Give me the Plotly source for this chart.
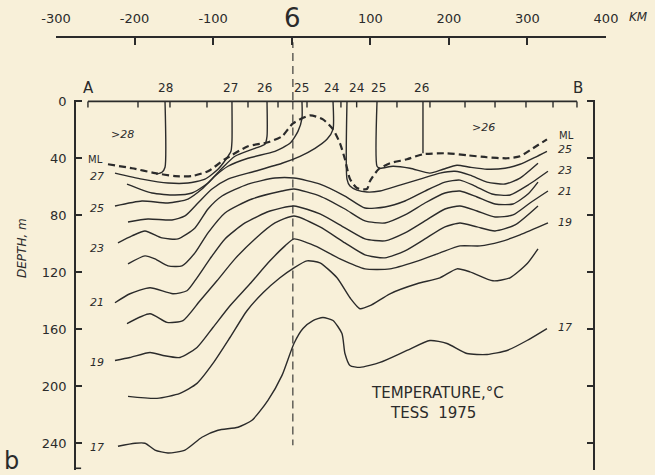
import plotly.graph_objects as go

W, H = 655, 475
BG = "#f8f0d9"
INK = "#2b2b2b"
FONT = "DejaVu Sans"

# distance scale along the top (km from storm centre)
km_ticks = [-300, -200, -100, 0, 100, 200, 300, 400]
km_labels = ["-300", "-200", "-100", "", "100", "200", "300", "400"]

# depth axis (m)
depth_ticks = [0, 40, 80, 120, 160, 200, 240]
depth_labels = ["0", "40", "80", "120", "160", "200", "240"]

# XBT stations along section A-B (km)
stations_km = [-259.3, -195.6, -154.9, -107.8, -55.6, -17.4, 19.5, 62.7,
               82.7, 134.0, 176.0, 220.6, 258.8, 298.2, 332.6, 363.1]

# surface temperatures written above the section
surface_temps = ["28", "27", "26", "25", "24", "24", "25", "26"]
surface_temp_km = [-161.2, -78.5, -34.0, 12.0, 51.3, 83.1, 110.0, 165.8]

# mixed layer depth
ml_km = [-233.8, -203.3, -174.0, -148.5, -126.9, -106.5, -84.9, -55.6, -30.2, -12.3,
         1.7, 23.3, 39.8, 52.6, 61.5, 67.8, 74.2, 83.1, 95.8, 99.6, 110.5, 125.1,
         146.7, 167.1, 197.7, 223.1, 248.6, 274.1, 290.6, 307.1, 324.9]
ml_depth = [44.1, 46.9, 50.3, 52.4, 52.4, 49.0, 40.6, 31.5, 28.7, 24.5,
            15.4, 9.8, 12.6, 19.6, 29.4, 40.6, 54.5, 60.8, 61.5, 56.0, 47.6, 43.4,
            40.6, 37.1, 36.4, 37.8, 39.2, 39.9, 38.5, 32.9, 26.6]

# isotherms (km, depth m)
t28_km = [-161.2, -161.2, -165.1, -172.7]
t28_depth = [0, 46.2, 49.7, 51.0]

t27_km = [-224.9, -190.5, -157.4, -132.0, -110.3, -93.8, -83.6, -77.3, -76.0, -76.0]
t27_depth = [50.3, 54.5, 57.3, 57.3, 54.5, 47.6, 40.6, 35.0, 28.0, 0]

t26_km = [-209.6, -177.8, -148.5, -126.9, -106.5, -88.7, -72.2, -46.7, -34.0, -31.4, -31.4]
t26_depth = [58.0, 64.3, 65.7, 64.3, 57.3, 46.9, 38.5, 32.9, 30.1, 24.5, 0]

t26b_km = [167.1, 167.1]
t26b_depth = [0, 36.4]

t25_km = [-224.9, -190.5, -157.4, -132.0, -114.2, -97.6, -81.1, -55.6, -21.3, -2.2, 8.0, 13.1, 13.1]
t25_depth = [73.4, 69.9, 71.3, 68.5, 61.5, 52.4, 45.5, 39.9, 35.0, 29.4, 21.0, 11.9, 0]

t25b_km = [108.6, 108.6, 112.4, 128.9, 150.6, 176.0, 192.6, 210.4, 226.9, 248.6, 271.5, 290.6, 309.7, 324.9]
t25b_depth = [0, 45.5, 46.9, 45.5, 46.9, 50.3, 47.6, 44.8, 46.2, 47.6, 46.9, 44.1, 39.2, 35.0]

t24_km = [-208.3, -182.9, -152.3, -135.8, -119.3, -101.4, -81.1, -46.7, -12.3, 10.6, 29.7, 44.9, 52.6, 52.6]
t24_depth = [84.6, 82.5, 83.2, 80.4, 71.3, 61.5, 54.5, 49.0, 43.4, 38.5, 32.9, 26.6, 19.6, 0]

t24b_km = [70.4, 70.4, 74.2, 83.1, 95.8, 112.4, 137.8, 163.3, 188.7, 207.8, 226.9, 248.6, 271.5, 290.6, 313.5]
t24b_depth = [0, 54.5, 59.4, 62.2, 63.6, 62.9, 58.7, 54.5, 50.3, 49.0, 51.7, 56.6, 58.0, 53.8, 43.4]

t23_km = [-221.1, -203.3, -186.7, -165.1, -144.7, -123.1, -106.5, -88.7, -55.6, -21.3, 2.9, 36.0,
          67.8, 93.3, 118.7, 144.2, 169.6, 195.1, 214.2, 233.3, 254.9, 277.9, 300.8, 326.2]
t23_depth = [99.3, 94.4, 90.9, 95.8, 96.5, 88.8, 75.5, 66.4, 58.0, 53.8, 53.8, 58.0,
             66.4, 74.8, 74.1, 69.9, 62.9, 56.6, 55.2, 59.4, 65.0, 65.7, 58.7, 49.0]

t22_km = [-208.3, -186.7, -174.0, -157.4, -139.6, -123.1, -106.5, -84.9, -50.5, -12.3, 2.9, 36.0,
          67.8, 93.3, 118.7, 144.2, 169.6, 195.1, 214.2, 235.9, 258.8, 281.7, 300.8, 313.5]
t22_depth = [114.0, 108.4, 110.5, 115.4, 115.4, 106.3, 92.3, 78.3, 68.5, 62.9, 61.5, 66.4,
             75.5, 83.9, 85.3, 79.7, 71.3, 64.3, 62.9, 67.1, 72.0, 72.0, 65.0, 56.6]

t21_km = [-224.9, -205.8, -180.3, -151.1, -133.3, -120.5, -104.0, -84.9, -59.4, -27.6, 2.9, 36.0,
          67.8, 93.3, 118.7, 144.2, 169.6, 195.1, 214.2, 235.9, 258.8, 281.7, 303.3, 326.2]
t21_depth = [141.3, 135.0, 130.8, 135.0, 132.9, 123.8, 110.5, 96.5, 85.3, 76.9, 73.4, 79.0,
             88.8, 96.5, 97.9, 92.3, 83.9, 75.5, 73.4, 76.9, 81.1, 79.7, 71.3, 62.9]

t20_km = [-209.6, -180.3, -158.7, -138.3, -116.7, -95.1, -72.2, -46.7, -21.3, 2.9, 36.0,
          67.8, 93.3, 118.7, 144.2, 169.6, 195.1, 214.2, 235.9, 258.8, 284.3, 313.5]
t20_depth = [155.9, 149.0, 155.1, 153.8, 139.9, 125.9, 110.5, 96.5, 85.3, 80.4, 88.1,
             99.3, 107.7, 109.8, 104.9, 96.5, 88.1, 85.3, 88.1, 90.9, 86.7, 73.4]

t19_km = [-224.9, -205.8, -180.3, -163.8, -142.2, -120.5, -100.2, -78.5, -53.1, -27.6, -8.5, 2.9,
          29.7, 61.5, 93.3, 125.1, 156.9, 188.7, 214.2, 239.7, 265.1, 290.6, 326.2]
t19_depth = [181.8, 179.7, 176.2, 178.3, 179.7, 172.7, 158.7, 143.4, 128.0, 111.9, 101.4, 96.5,
             101.4, 110.5, 117.5, 117.5, 112.6, 106.3, 101.4, 101.4, 98.6, 93.7, 85.3]

t18_km = [-208.3, -171.4, -142.2, -120.5, -100.2, -78.5, -56.9, -36.5, -14.9, 2.9, 19.5, 36.0,
          57.7, 74.2, 86.9, 99.6, 125.1, 159.5, 188.7, 210.4, 226.9, 256.2, 277.9, 299.5, 313.5]
t18_depth = [207.0, 208.4, 204.9, 197.9, 183.9, 165.7, 146.9, 134.3, 123.8, 116.8, 111.9, 113.3,
             123.8, 137.8, 145.5, 143.4, 135.0, 128.0, 123.8, 117.5, 119.6, 125.9, 123.8, 114.0, 103.5]

t17_km = [-221.1, -199.4, -186.7, -174.0, -157.4, -135.8, -114.2, -93.8, -68.3, -50.5, -30.2, -12.3,
          2.9, 14.4, 27.1, 39.8, 52.6, 64.0, 67.8, 74.2, 86.9, 112.4, 146.7, 176.0, 197.7, 223.1,
          248.6, 274.1, 299.5, 324.9]
t17_depth = [242.0, 239.9, 239.9, 244.7, 246.8, 244.7, 235.7, 230.8, 228.7, 223.8, 209.8, 192.3,
             169.9, 159.4, 153.8, 151.7, 153.8, 162.9, 176.9, 185.3, 186.7, 183.2, 174.8, 167.8, 169.9, 176.9,
             177.6, 174.8, 167.8, 159.4]

isotherms = [
    (t28_km, t28_depth), (t27_km, t27_depth), (t26_km, t26_depth), (t26b_km, t26b_depth),
    (t25_km, t25_depth), (t25b_km, t25b_depth), (t24_km, t24_depth), (t24b_km, t24b_depth),
    (t23_km, t23_depth), (t22_km, t22_depth), (t21_km, t21_depth), (t20_km, t20_depth),
    (t19_km, t19_depth), (t18_km, t18_depth), (t17_km, t17_depth),
]


def paper(x, y):
    # pixel position in the 655x475 page -> paper coords (margins are zero)
    return x / W, 1 - y / H


fig = go.Figure()

for xs, ys in isotherms:
    fig.add_trace(go.Scatter(x=xs, y=ys, mode="lines", hoverinfo="skip", showlegend=False,
                             line=dict(color=INK, width=1.4, shape="spline", smoothing=0.6)))

fig.add_trace(go.Scatter(x=ml_km, y=ml_depth, mode="lines", hoverinfo="skip", showlegend=False,
                         line=dict(color=INK, width=2.2, dash="7px,4px", shape="spline", smoothing=0.6)))

# storm track (dashed vertical) in the section and above it
fig.add_trace(go.Scatter(x=[1.5, 1.5], y=[0, 241.3], mode="lines", hoverinfo="skip", showlegend=False,
                         line=dict(color=INK, width=1.1, dash="8px,5px")))
fig.add_trace(go.Scatter(x=[1.5, 1.5], y=[0, 0.93], mode="lines", hoverinfo="skip", showlegend=False,
                         xaxis="x2", yaxis="y2", line=dict(color=INK, width=1.1, dash="8px,5px")))

# section top line with station ticks
fig.add_trace(go.Scatter(x=[stations_km[0], stations_km[-1]], y=[0, 0], mode="lines",
                         hoverinfo="skip", showlegend=False, line=dict(color=INK, width=1.6)))
shapes = []
for s in stations_km:
    shapes.append(dict(type="line", xref="x", yref="y", x0=s, x1=s, y0=0, y1=4.2,
                       line=dict(color=INK, width=1.4)))
# foot of the left axis
shapes.append(dict(type="line", xref="x", yref="y", x0=-274.5, x1=-268, y0=257.5, y1=257.5,
                   line=dict(color=INK, width=1.6)))

ann = []


def label(text, x, y, size=12, italic=False, **kw):
    px_, py_ = paper(x, y)
    if italic:
        text = "<i>" + text + "</i>"
    ann.append(dict(text=text, x=px_, y=py_, xref="paper", yref="paper", showarrow=False,
                    xanchor="center", yanchor="middle",
                    font=dict(family=FONT, size=size, color=INK), **kw))


# surface temperature labels
for t, k in zip(surface_temps, surface_temp_km):
    ann.append(dict(text=t, x=k, y=paper(0, 88)[1], xref="x", yref="paper", showarrow=False,
                    xanchor="center", yanchor="middle",
                    font=dict(family=FONT, size=12, color=INK)))

label("6", 292, 18, size=26)
label("<i>KM</i>", 638, 17, size=12)
label("A", 88, 88, size=15)
label("B", 578, 88, size=15)
label("b", 11, 461, size=24)
label("DEPTH, m", 22, 248, size=12, italic=True, textangle=-90)

label("&gt;28", 122, 134, size=11, italic=True)
label("ML", 95, 160, size=10)
for t, y in [("27", 176), ("25", 208), ("23", 248), ("21", 302), ("19", 362), ("17", 447)]:
    label(t, 97, y, size=11, italic=True)

label("ML", 566, 135, size=10)
for t, y in [("25", 149), ("23", 170), ("21", 191), ("19", 223), ("17", 327)]:
    label(t, 565, y, size=11, italic=True)
label("&gt;26", 483, 127, size=11, italic=True)

label("TEMPERATURE,°C", 437, 393, size=15)
label("TESS  1975", 433, 413, size=15)

fig.update_layout(
    width=W, height=H,
    margin=dict(l=0, r=0, t=0, b=0, pad=0, autoexpand=False),
    paper_bgcolor=BG, plot_bgcolor=BG,
    showlegend=False,
    shapes=shapes,
    annotations=ann,
    xaxis=dict(domain=[76 / W, 593 / W], range=[-274.5, 383.5], visible=False,
               showgrid=False, zeroline=False, automargin=False),
    yaxis=dict(domain=[1 - 470 / H, 1 - 100 / H], range=[258.7, -1],
               tickvals=depth_ticks, ticktext=depth_labels,
               ticks="inside", ticklen=6, tickwidth=1.5, tickcolor=INK,
               showline=True, linewidth=1.7, linecolor=INK, mirror="ticks",
               showgrid=False, zeroline=False, ticklabelstandoff=5, automargin=False,
               tickfont=dict(family=FONT, size=13, color=INK)),
    xaxis2=dict(domain=[56 / W, 606 / W], range=[-300, 400], anchor="y2", side="top",
                tickvals=km_ticks, ticktext=km_labels,
                ticks="inside", ticklen=7, tickwidth=1.5, tickcolor=INK,
                showline=True, linewidth=1.7, linecolor=INK, automargin=False,
                showgrid=False, zeroline=False, ticklabelstandoff=8,
                tickfont=dict(family=FONT, size=13, color=INK)),
    yaxis2=dict(domain=[1 - 100 / H, 1 - 38 / H], range=[0, 1], anchor="x2", visible=False,
                showgrid=False, zeroline=False),
)

# drop the default page margin so the figure sits at the window corner
fig.write_html("out.html", config={"displayModeBar": False},
               post_script="document.body.style.margin='0';")
